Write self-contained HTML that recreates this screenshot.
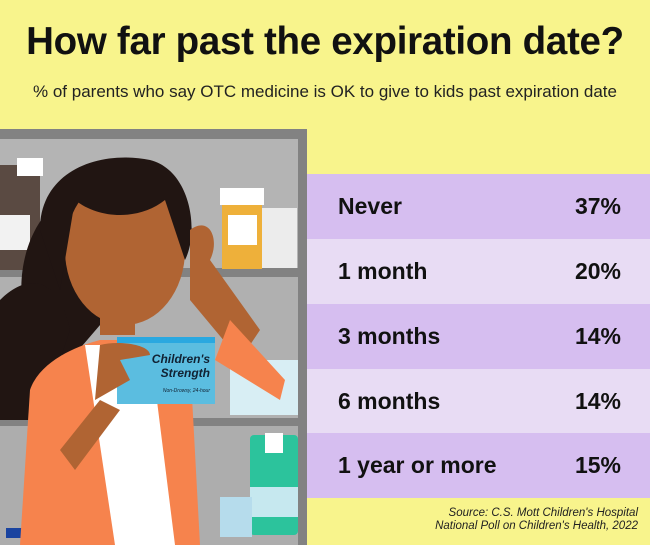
<!DOCTYPE html>
<html><head><style>
body{margin:0;width:650px;height:545px;overflow:hidden;background:#f8f48c;font-family:"Liberation Sans",sans-serif;position:relative}
.t{position:absolute;left:0;width:650px;text-align:center;top:20px;font-size:38.5px;font-weight:bold;color:#111;letter-spacing:-0.3px}
.s{position:absolute;left:0;width:650px;text-align:center;top:82px;font-size:17px;color:#222}
.row{position:absolute;left:307px;width:343px;height:65px;font-size:23px;color:#111;font-weight:bold}
.row span{position:absolute;top:19px}
.row .l{left:31px}.row .r{right:29px}
.src{position:absolute;right:12px;top:507px;font-size:11.5px;font-style:italic;text-align:right;color:#222;line-height:13px}
</style></head><body>
<div class="t">How far past the expiration date?</div>
<div class="s">% of parents who say OTC medicine is OK to give to kids past expiration date</div>
<svg style="position:absolute;left:0;top:0" width="650" height="545">
<rect x="0" y="129" width="307" height="416" fill="#828282"/>
<rect x="0" y="139" width="298" height="129" fill="#b4b4b4"/>
<rect x="0" y="277" width="298" height="141" fill="#b0b0b0"/>
<rect x="0" y="426" width="298" height="119" fill="#adadad"/>
<rect x="0" y="165" width="40" height="105" fill="#5a4a42"/>
<rect x="0" y="215" width="30" height="35" fill="#f2f2f2"/>
<rect x="17" y="158" width="26" height="18" fill="#fff"/>
<rect x="222" y="205" width="40" height="64" fill="#eeb03a"/>
<rect x="220" y="188" width="44" height="17" fill="#fff"/>
<rect x="228" y="215" width="29" height="30" fill="#fff"/>
<rect x="262" y="208" width="35" height="60" fill="#ececec"/>
<rect x="230" y="360" width="68" height="55" fill="#d8eef4"/>
<rect x="250" y="435" width="48" height="100" rx="4" fill="#2cc39c"/>
<rect x="250" y="487" width="48" height="30" fill="#c6e8ef"/>
<rect x="265" y="433" width="18" height="20" fill="#fff"/>
<rect x="220" y="497" width="32" height="40" fill="#b6dcec"/>
<rect x="6" y="528" width="70" height="10" fill="#1a44a0"/>
<path d="M35 340 C10 300 20 230 60 200 C90 180 150 175 175 200 L180 250 L130 290 L70 360 Z" fill="#211512"/>
<path d="M0 300 C30 270 60 280 70 330 L40 420 L0 420 Z" fill="#211512"/>
<ellipse cx="125" cy="250" rx="60" ry="75" fill="#b06433"/>
<path d="M40 230 C40 170 100 150 150 160 C190 170 200 230 185 260 L165 200 C140 220 100 220 75 200 L60 290 Z" fill="#211512"/>
<rect x="100" y="305" width="35" height="30" fill="#b06433"/>
<path d="M20 545 L30 390 C40 360 80 345 100 340 L150 340 L190 360 L200 545 Z" fill="#f6834d"/>
<path d="M85 345 L150 345 L175 545 L115 545 Z" fill="#fff"/>
<path d="M190 230 C210 215 220 240 210 260 L260 330 L240 360 L190 300 Z" fill="#b06433"/>
<path d="M230 320 L285 380 L280 400 L215 360 Z" fill="#f6834d"/>
<rect x="117" y="337" width="98" height="67" fill="#5bbde0"/>
<rect x="117" y="337" width="98" height="6" fill="#2aa8e0"/>
<text x="210" y="363" font-size="12" font-style="italic" font-weight="bold" fill="#123" text-anchor="end" font-family="Liberation Sans">Children's</text>
<text x="210" y="377" font-size="12" font-style="italic" font-weight="bold" fill="#123" text-anchor="end" font-family="Liberation Sans">Strength</text>
<text x="210" y="392" font-size="5" font-style="italic" fill="#123" text-anchor="end" font-family="Liberation Sans">Non-Drowsy, 24-hour</text>
<path d="M100 345 C120 340 150 345 150 355 L120 360 L130 380 L95 400 Z" fill="#b06433"/>
<path d="M60 450 L100 400 L120 410 L75 470 Z" fill="#b06433"/>
</svg>
<div class="row" style="top:174px;background:#d6bef0"><span class="l">Never</span><span class="r">37%</span></div>
<div class="row" style="top:239px;background:#e8dcf4"><span class="l">1 month</span><span class="r">20%</span></div>
<div class="row" style="top:304px;background:#d6bef0"><span class="l">3 months</span><span class="r">14%</span></div>
<div class="row" style="top:369px;background:#e8dcf4"><span class="l">6 months</span><span class="r">14%</span></div>
<div class="row" style="top:433px;background:#d6bef0"><span class="l">1 year or more</span><span class="r">15%</span></div>
<div class="src">Source: C.S. Mott Children's Hospital<br>National Poll on Children's Health, 2022</div>
</body></html>
